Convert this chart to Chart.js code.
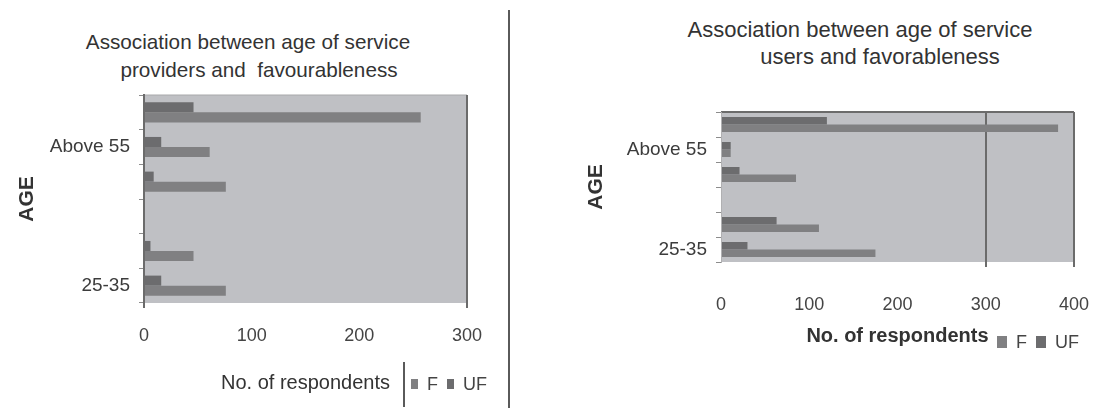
<!DOCTYPE html>
<html>
<head>
<meta charset="utf-8">
<script src="https://cdn.jsdelivr.net/npm/chart.js@4"></script>
<style>
  body { margin: 0; width: 1103px; height: 408px; position: relative; overflow: hidden; background: #fff;
         font-family: "Liberation Sans", Arial, sans-serif; color: #333; }
  .box { position: absolute; top: 0; }
  .title { position: absolute; text-align: center; white-space: pre; color: #333; }
  .legend { position: absolute; display: flex; align-items: center; font-size: 18px; color: #444; height: 22px; }
  .legend .item { display: flex; align-items: center; margin-right: 9px; }
  .legend .sw { display: inline-block; margin-right: 9px; }
  .rule { position: absolute; background: #5a5a5a; }
</style>
</head>
<body>
<div class="title" id="titleProviders" style="left:48px; top:28px; width:400px; font-size:20.7px; line-height:28px;"></div>
<div class="title" id="titleUsers" style="left:660px; top:16px; width:400px; font-size:22px; line-height:27px;"></div>

<div class="box" style="left:0; width:510px; height:408px;"><canvas id="chartProviders" width="510" height="408"></canvas></div>
<!-- a bit wider than the page: the last x label plus its padding eats into the right side -->
<div class="box" style="left:510px; width:606px; height:408px;"><canvas id="chartUsers" width="606" height="408"></canvas></div>

<div class="rule" style="left:508px; top:10px; width:2px; height:398px;"></div>
<div class="rule" style="left:403px; top:362px; width:2px; height:45px;"></div>

<div class="legend" id="legendProviders" style="left:411px; top:373px;"></div>
<div class="legend" id="legendUsers" style="left:997px; top:331px;"></div>

<script>
// categories, top to bottom as they appear (only two of them are labelled in the picture)
const ageGroups = ["", "Above 55", "", "", "", "25-35"];
const seriesNames = ["F", "UF"];
const seriesColors = { F: "#808082", UF: "#6c6c6e" };

// service providers
const providersF = [257, 61, 76, null, 46, 76];
const providersUF = [46, 16, 9, null, 6, 16];
const providersTitle = ["Association between age of service", "providers and  favourableness"];

// service users
const usersF = [382, 11, 85, null, 111, 175];
const usersUF = [120, 11, 21, null, 63, 30];
const usersTitle = ["Association between age of service", "users and favorableness"];

const xTitle = "No. of respondents";
const yTitle = "AGE";

// titles
function setTitle(id, lines, shift) {
  const el = document.getElementById(id);
  el.innerHTML = `<div>${lines[0]}</div><div style="padding-left:${shift}px">${lines[1]}</div>`;
}
setTitle("titleProviders", providersTitle, 22);
setTitle("titleUsers", usersTitle, 40);

// legends
function setLegend(id, w, h) {
  document.getElementById(id).innerHTML = seriesNames.map(n =>
    `<span class="item"><span class="sw" style="width:${w}px;height:${h}px;background:${seriesColors[n]}"></span>${n}</span>`
  ).join("");
}
setLegend("legendProviders", 7, 10);
setLegend("legendUsers", 10, 12);

// grey plot area
const plotBackground = {
  id: "plotBackground",
  beforeDraw(chart, args, opts) {
    const { ctx, chartArea: a } = chart;
    ctx.save();
    ctx.fillStyle = opts.color;
    ctx.fillRect(a.left, a.top, a.width, a.height);
    ctx.strokeStyle = opts.topColor;
    ctx.lineWidth = opts.topWidth;
    ctx.beginPath();
    ctx.moveTo(a.left, a.top);
    ctx.lineTo(a.right, a.top);
    ctx.stroke();
    ctx.restore();
  }
};

const font = "'Liberation Sans', Arial, sans-serif";

function buildChart(id, o) {
  return new Chart(document.getElementById(id), {
    type: "bar",
    data: {
      labels: ageGroups,
      datasets: [
        { label: "UF", data: o.uf, backgroundColor: seriesColors.UF, categoryPercentage: o.catPct, barPercentage: 1 },
        { label: "F", data: o.f, backgroundColor: seriesColors.F, categoryPercentage: o.catPct, barPercentage: 1 }
      ]
    },
    options: {
      indexAxis: "y",
      responsive: false,
      animation: false,
      layout: { padding: o.padding },
      plugins: {
        legend: { display: false },
        tooltip: { enabled: false },
        plotBackground: { color: "#bfc0c4", topColor: o.topColor, topWidth: o.topWidth }
      },
      scales: {
        x: {
          min: 0,
          max: o.max,
          ticks: { stepSize: 100, padding: o.xTickPad, color: "#444", font: { family: font, size: 18 } },
          grid: {
            color: ctx => o.gridAt.includes(ctx.tick && ctx.tick.value) ? "#6b6b6b" : "rgba(0,0,0,0)",
            lineWidth: 2,
            tickLength: 5
          },
          border: { display: false },
          title: {
            display: true, text: xTitle, color: "#333",
            font: { family: font, size: 20, weight: o.xTitleWeight },
            padding: { top: 0, bottom: o.xTitlePad }
          },
          afterFit: s => { s.height = o.xHeight; }
        },
        y: {
          ticks: { padding: 9, color: "#3c3c3c", autoSkip: false, font: { family: font, size: 19 } },
          grid: { drawOnChartArea: false, tickLength: 5, color: "#8c8c8c" },
          border: { display: true, color: o.yBorder, width: o.yBorderWidth },
          title: {
            display: true, text: yTitle, color: "#333",
            font: { family: font, size: 21, weight: "bold" },
            padding: { top: o.yTitlePad, bottom: 0 }
          },
          afterFit: s => { s.width = o.yWidth; }
        }
      }
    },
    plugins: [plotBackground]
  });
}

buildChart("chartProviders", {
  f: providersF, uf: providersUF, max: 300, catPct: 0.58,
  padding: { top: 95, right: 43, bottom: 0, left: 0 },
  xHeight: 105, yWidth: 144, xTickPad: 17, xTitlePad: 13, xTitleWeight: "normal",
  yTitlePad: 15, gridAt: [0, 300], yBorder: "#6b6b6b", yBorderWidth: 2,
  topColor: "#a8a8aa", topWidth: 1
});

buildChart("chartUsers", {
  f: usersF, uf: usersUF, max: 400, catPct: 0.6,
  padding: { top: 112, right: 29, bottom: 0, left: 0 },
  xHeight: 146, yWidth: 211, xTickPad: 27, xTitlePad: 60, xTitleWeight: "bold",
  yTitlePad: 74, gridAt: [300, 400], yBorder: "#b0b0b2", yBorderWidth: 1,
  topColor: "#6b6b6b", topWidth: 2
});
</script>
</body>
</html>
